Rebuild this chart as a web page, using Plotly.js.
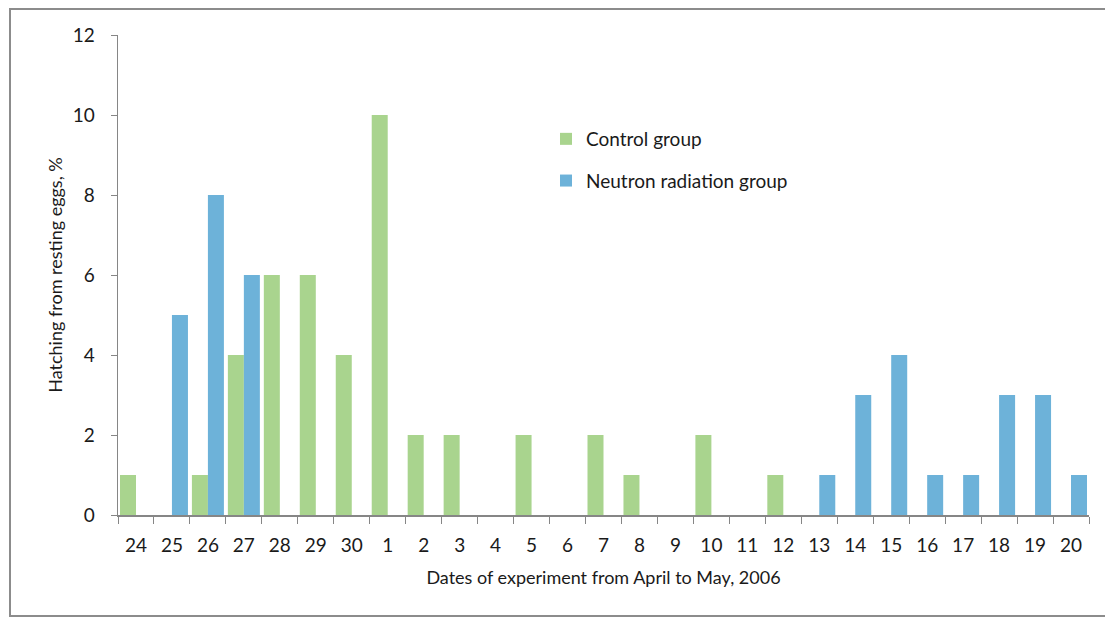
<!DOCTYPE html>
<html>
<head>
<meta charset="utf-8">
<script src="https://cdn.plot.ly/plotly-3.0.1.min.js"></script>
<style>
html,body{margin:0;padding:0;background:#fff;}
#chart{width:1105px;height:617px;}
</style>
</head>
<body>
<div id="chart"></div>
<script>
const dates = ["24","25","26","27","28","29","30","1","2","3","4","5","6","7","8","9","10","11","12","13","14","15","16","17","18","19","20"];
const controlGroup = [1,0,1,4,6,6,4,10,2,2,0,2,0,2,1,0,2,0,1,0,0,0,0,0,0,0,0];
const neutronGroup = [0,5,8,6,0,0,0,0,0,0,0,0,0,0,0,0,0,0,0,1,3,4,1,1,3,3,1];
const yTicks = [0,2,4,6,8,10,12];

const fontFam = 'Lato, "Open Sans", sans-serif';
const traces = [
  {type:'bar', name:'Control group', x:dates, y:controlGroup, legendgroup:'a',
   marker:{color:'#A9D48E', line:{width:0}}, hoverinfo:'skip'},
  {type:'bar', name:'Neutron radiation group', x:dates, y:neutronGroup, legendgroup:'b',
   marker:{color:'#6DB2D9', line:{width:0}}, hoverinfo:'skip'}
];

const L = 118, R = 1089, T = 35, B = 515;
const px = v => (v - L) / (R - L);
const py = v => (B - v) / (B - T);

const layout = {
  width:1105, height:617,
  margin:{l:L, r:1105-R, t:T, b:617-B},
  paper_bgcolor:'#fff', plot_bgcolor:'#fff',
  barmode:'group', bargap:0.11, bargroupgap:0,
  font:{family:fontFam, color:'#1a1a1a', size:19},
  showlegend:true,
  legend:{x:px(546), y:py(120), xanchor:'left', yanchor:'top', bgcolor:'rgba(0,0,0,0)',
          font:{size:19, family:fontFam}, tracegroupgap:14, itemwidth:30},
  xaxis:{type:'category', tickson:'boundaries', ticks:'outside', ticklen:7, tickcolor:'#868686',
         showline:true, linecolor:'#868686', linewidth:1.5, showgrid:false, zeroline:false,
         tickfont:{size:19, family:fontFam}, ticklabelstandoff:13, fixedrange:true,
         title:{text:'Dates of experiment from April to May, 2006', font:{size:18, family:fontFam}, standoff:16}},
  yaxis:{range:[0,12], tickvals:yTicks, ticktext:yTicks.map(String), ticks:'outside', ticklen:6, tickcolor:'#868686',
         showline:true, linecolor:'#868686', linewidth:1.5, showgrid:false, zeroline:false,
         tickfont:{size:19, family:fontFam}, ticklabelstandoff:12, fixedrange:true,
         title:{text:'Hatching from resting eggs, %', font:{size:18, family:fontFam}, standoff:5}},
  shapes:[
    {type:'rect', xref:'paper', yref:'paper', x0:px(10), x1:px(1112), y0:py(616), y1:py(9),
     line:{color:'#8c8c8c', width:2}, fillcolor:'rgba(0,0,0,0)', layer:'below'}
  ]
};

Plotly.newPlot('chart', traces, layout, {displayModeBar:false, staticPlot:true});
</script>
</body>
</html>
